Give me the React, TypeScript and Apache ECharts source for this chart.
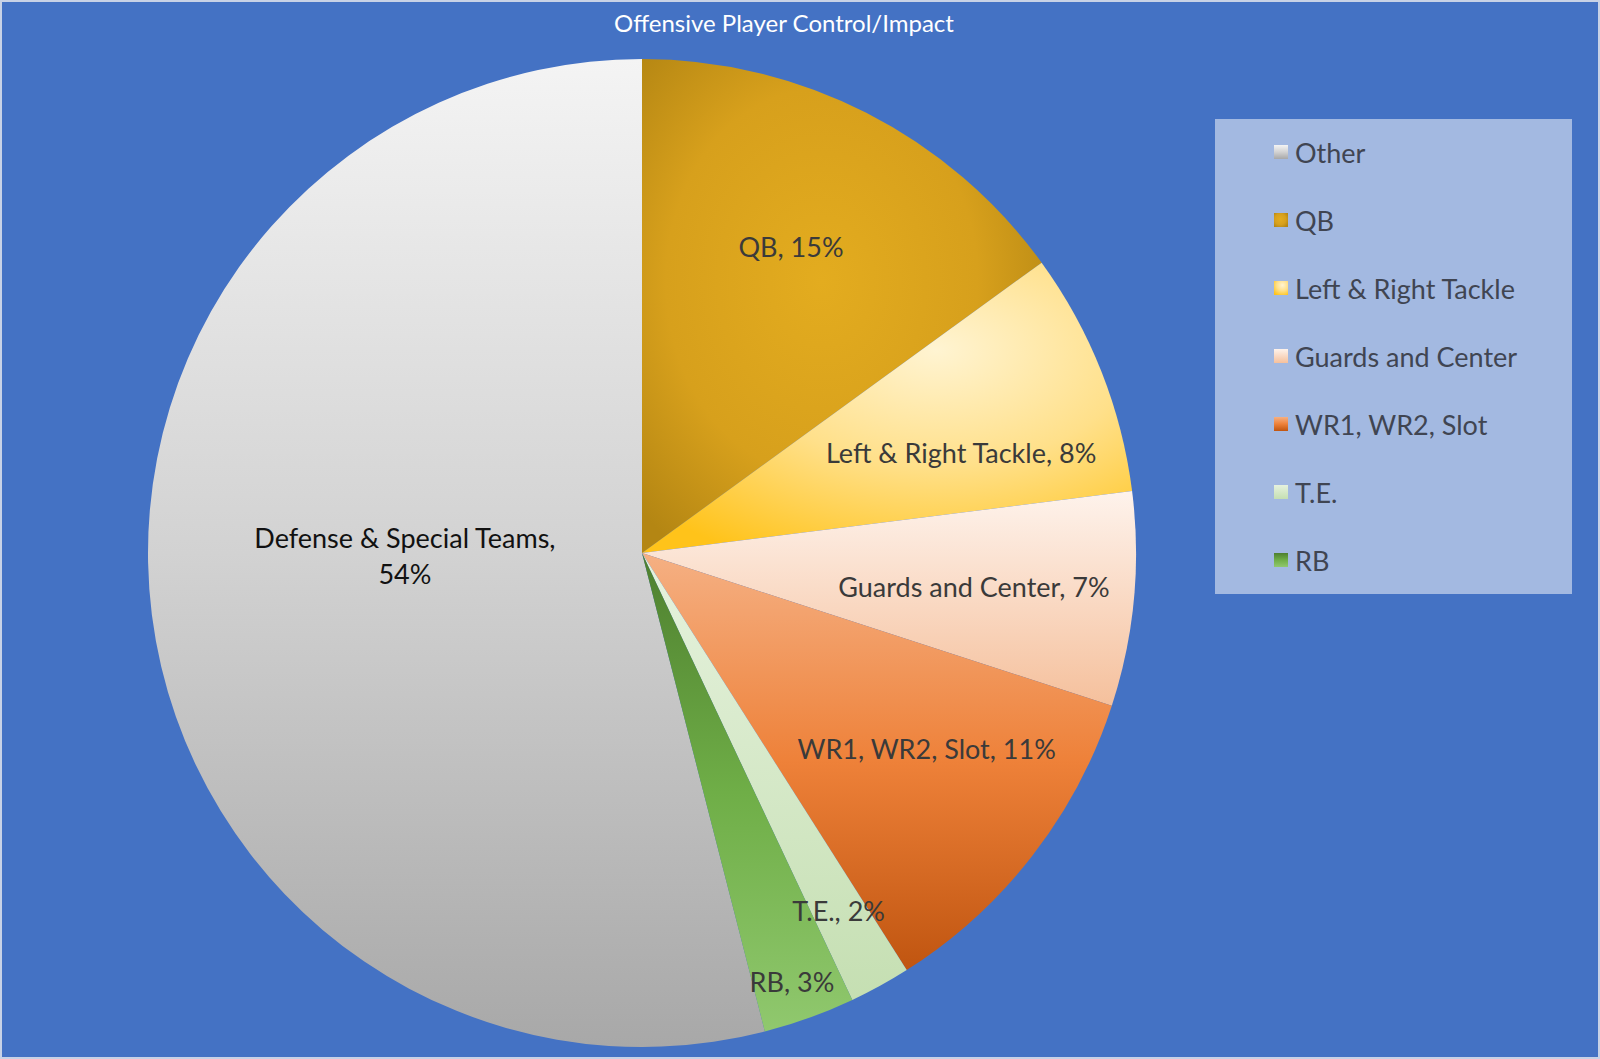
import React, { useEffect, useRef } from 'react';
import * as echarts from 'echarts';

// ---- data ----
const legendNames = ['Other', 'QB', 'Left & Right Tackle', 'Guards and Center', 'WR1, WR2, Slot', 'T.E.', 'RB'];
const labelNames = ['Defense & Special Teams', 'QB', 'Left & Right Tackle', 'Guards and Center', 'WR1, WR2, Slot', 'T.E.', 'RB'];
const shares = [54, 15, 8, 7, 11, 2, 3];
const titleText = 'Offensive Player Control/Impact';

// ---- style ----
const FONT = 'Lato, "Open Sans", sans-serif';
const R = 494;
const CENTER = [642, 553];
const labelDistFrac = [0.49, 0.685, 0.68, 0.675, 0.7, 0.82, 0.92];
const labelShift = [[6, -28], [-6, -2], [4, 24], [-3, 2], [9, -18], [0, 0], [-5, -2]];
const labelColors = ['#111111', '#3a3a3a', '#3a3a3a', '#3a3a3a', '#3a3a3a', '#3a3a3a', '#3a3a3a'];

const lin = (stops: [number, string][]) => ({
  type: 'linear', x: 0, y: 0, x2: 0, y2: 1,
  colorStops: stops.map(([offset, color]) => ({ offset, color })),
});
const rad = (x: number, y: number, r: number, stops: [number, string][]) => ({
  type: 'radial', x, y, r,
  colorStops: stops.map(([offset, color]) => ({ offset, color })),
});

const sliceFills = [
  lin([[0, '#F4F4F4'], [0.5, '#D2D2D2'], [1, '#A8A8A8']]),
  rad(0.45, 0.45, 0.65, [[0, '#E3AC1F'], [0.6, '#D7A01C'], [1, '#B48613']]),
  rad(0.6, 0.3, 0.8, [[0, '#FFF4D2'], [0.5, '#FFE08A'], [1, '#FFC31A']]),
  lin([[0, '#FEF3EC'], [1, '#F5C09C']]),
  lin([[0, '#F5B083'], [0.5, '#EE8139'], [1, '#C05510']]),
  lin([[0, '#E6F2DE'], [1, '#C5DFB2']]),
  lin([[0, '#4E7F2F'], [0.5, '#6FAE47'], [1, '#90C86E']]),
];

export default function App() {
  const ref = useRef<HTMLDivElement>(null);
  useEffect(() => {
    document.body.style.margin = '0';
    const chart = echarts.init(ref.current!, null, { renderer: 'svg' });
    const total = shares.reduce((a, b) => a + b, 0);
    const startAngle = 90 + (shares[0] / total) * 360;

    const mainSeries = {
      type: 'pie',
      name: 'main',
      center: CENTER,
      radius: [0, R],
      startAngle,
      clockwise: true,
      avoidLabelOverlap: false,
      silent: true,
      label: { show: false },
      labelLine: { show: false },
      emphasis: { disabled: true },
      data: legendNames.map((n, i) => ({
        name: n,
        value: shares[i],
        itemStyle: { color: sliceFills[i], borderWidth: 0 },
      })),
      z: 2,
    };

    const labelSeries = legendNames.map((_, k) => ({
      type: 'pie',
      name: 'label' + k,
      center: CENTER,
      radius: [0, 2 * labelDistFrac[k] * R],
      startAngle,
      clockwise: true,
      avoidLabelOverlap: false,
      silent: true,
      legendHoverLink: false,
      emphasis: { disabled: true },
      labelLine: { show: false },
      itemStyle: { color: 'rgba(0,0,0,0)' },
      z: 5,
      data: legendNames.map((n, i) => ({
        name: n,
        value: shares[i],
        itemStyle: { color: 'rgba(0,0,0,0)' },
        label: {
          show: i === k,
          position: 'inside',
          offset: labelShift[i],
          color: labelColors[i],
          fontFamily: FONT,
          fontSize: 27,
          lineHeight: 36,
          align: 'center',
          formatter: () =>
            i === 0
              ? `${labelNames[i]},\n${Math.round((shares[i] / total) * 100)}%`
              : `${labelNames[i]}, ${Math.round((shares[i] / total) * 100)}%`,
        },
      })),
    }));

    chart.setOption({
      animation: false,
      backgroundColor: '#4472C4',
      title: {
        text: titleText,
        left: 779,
        textAlign: 'center',
        top: 5,
        textStyle: { color: '#FFFFFF', fontFamily: FONT, fontSize: 24, fontWeight: 'normal' },
      },
      graphic: [
        {
          type: 'rect',
          shape: { x: 1, y: 1, width: 1598, height: 1057 },
          style: { fill: 'none', stroke: '#C8D2E6', lineWidth: 2 },
          z: 10,
        },
        {
          type: 'rect',
          shape: { x: 1215, y: 119, width: 357, height: 475 },
          style: { fill: '#A3B9E1' },
          z: 0,
        },
      ],
      legend: {
        data: legendNames,
        orient: 'vertical',
        left: 1269,
        top: 133,
        itemWidth: 14,
        itemHeight: 14,
        itemGap: 40,
        icon: 'rect',
        selectedMode: false,
        textStyle: { color: '#404552', fontFamily: FONT, fontSize: 27, lineHeight: 28, padding: [0, 0, 0, 2] },
        z: 4,
      },
      series: [mainSeries, ...labelSeries],
    });
    return () => chart.dispose();
  }, []);
  return <div ref={ref} style={{ width: 1600, height: 1059 }} />;
}
